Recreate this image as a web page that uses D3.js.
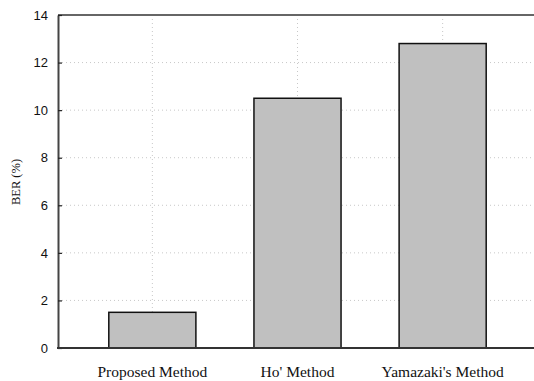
<!DOCTYPE html>
<html>
<head>
<meta charset="utf-8">
<script src="https://cdn.jsdelivr.net/npm/d3@7"></script>
<style>
  body { margin: 0; background: #fff; }
</style>
</head>
<body>
<div id="chartContainer"></div>
<script>
// Chart data
const methods = ["Proposed Method", "Ho' Method", "Yamazaki's Method"];
const berValues = [1.5, 10.5, 12.8];
const yTicks = [0, 2, 4, 6, 8, 10, 12, 14];

// Dimensions and margins
const width = 534;
const height = 381;
const marginTop = 15;
const marginRight = -3;
const marginBottom = 33;
const marginLeft = 58;

// Scales
const x = d3.scaleBand()
    .domain(methods)
    .range([marginLeft, width - marginRight])
    .paddingInner(0.4)
    .paddingOuter(0.35);

const y = d3.scaleLinear()
    .domain([0, 14])
    .range([height - marginBottom, marginTop]);

// SVG container
const svg = d3.create("svg")
    .attr("width", width)
    .attr("height", height)
    .attr("viewBox", [0, 0, width, height]);

// Horizontal dotted grid lines
svg.append("g")
    .selectAll("line")
    .data(yTicks.filter(d => d > 0 && d < 14))
    .join("line")
    .attr("x1", marginLeft)
    .attr("x2", width)
    .attr("y1", d => y(d))
    .attr("y2", d => y(d))
    .attr("stroke", "#c8c8c8")
    .attr("stroke-width", 1)
    .attr("stroke-dasharray", "1,3");

// Vertical dotted grid lines at category centres
svg.append("g")
    .selectAll("line")
    .data(methods)
    .join("line")
    .attr("x1", d => x(d) + x.bandwidth() / 2)
    .attr("x2", d => x(d) + x.bandwidth() / 2)
    .attr("y1", marginTop)
    .attr("y2", height - marginBottom)
    .attr("stroke", "#c8c8c8")
    .attr("stroke-width", 1)
    .attr("stroke-dasharray", "1,3");

// Bars
svg.append("g")
    .selectAll("rect")
    .data(methods)
    .join("rect")
    .attr("x", d => x(d))
    .attr("y", (d, i) => y(berValues[i]))
    .attr("width", x.bandwidth())
    .attr("height", (d, i) => y(0) - y(berValues[i]))
    .attr("fill", "#c0c0c0")
    .attr("stroke", "#111")
    .attr("stroke-width", 1.5);

// Top border
svg.append("line")
    .attr("x1", marginLeft)
    .attr("x2", width)
    .attr("y1", y(14))
    .attr("y2", y(14))
    .attr("stroke", "#666")
    .attr("stroke-width", 2);

// Y axis with inward ticks
const yAxis = svg.append("g")
    .attr("transform", `translate(${marginLeft},0)`)
    .call(d3.axisLeft(y).tickValues(yTicks).tickSize(-4).tickPadding(10).tickSizeOuter(0));
yAxis.select(".domain").attr("stroke", "#444").attr("stroke-width", 2);
yAxis.selectAll(".tick line").attr("stroke", "#222").attr("stroke-width", 1.2);
yAxis.selectAll(".tick text")
    .attr("font-family", "'Liberation Sans', Arial, sans-serif")
    .attr("font-size", 13)
    .attr("fill", "#111");

// Bottom axis line
svg.append("line")
    .attr("x1", marginLeft - 1)
    .attr("x2", width)
    .attr("y1", y(0))
    .attr("y2", y(0))
    .attr("stroke", "#333")
    .attr("stroke-width", 2);

// X labels
svg.append("g")
    .selectAll("text")
    .data(methods)
    .join("text")
    .attr("x", d => x(d) + x.bandwidth() / 2)
    .attr("y", 377)
    .attr("text-anchor", "middle")
    .attr("font-family", "'Liberation Serif', 'Times New Roman', serif")
    .attr("font-size", 15.5)
    .attr("fill", "#111")
    .text(d => d);

// Y label
svg.append("text")
    .attr("transform", "translate(20,182) rotate(-90)")
    .attr("text-anchor", "middle")
    .attr("font-family", "'Liberation Serif', 'Times New Roman', serif")
    .attr("font-size", 12.5)
    .attr("fill", "#111")
    .text("BER (%)");

document.getElementById('chartContainer').appendChild(svg.node());
</script>
</body>
</html>
